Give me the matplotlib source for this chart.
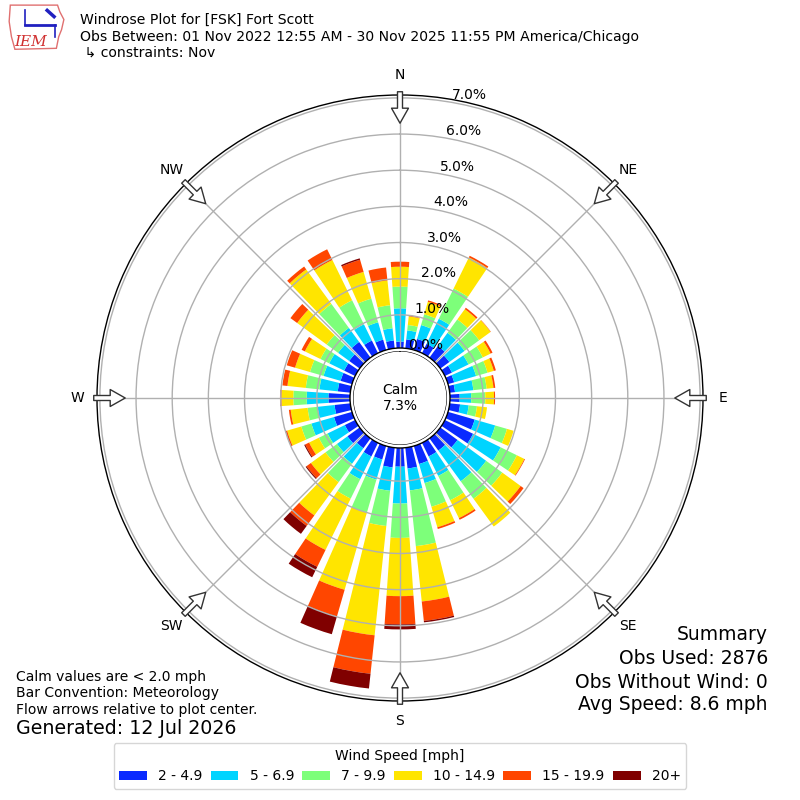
import numpy as np
import matplotlib

matplotlib.use("Agg")
import matplotlib.pyplot as plt
from matplotlib.patches import Patch, Circle, Polygon

# wind directions (deg, meteorological) and speed bins
directions = np.arange(0, 360, 10)
speed_labels = ["2 - 4.9", "5 - 6.9", "7 - 9.9", "10 - 14.9", "15 - 19.9", "20+"]
speed_colors = ["#0a2aff", "#00d4ff", "#7dff7a", "#ffe500", "#ff4600", "#800000"]

# percent of observations per direction, one list per speed bin
pct_2_5 = [0.26, 0.33, 0.40, 0.37, 0.48, 0.39, 0.30, 0.26, 0.23, 0.35, 0.37, 0.85,
           0.95, 0.67, 0.50, 0.50, 0.60, 0.66, 0.60, 0.63, 0.47, 0.50, 0.42, 0.50,
           0.40, 0.60, 0.52, 0.68, 0.43, 0.41, 0.42, 0.44, 0.62, 0.47, 0.38, 0.30]
pct_5_7 = [0.92, 0.25, 0.40, 0.77, 0.45, 0.52, 0.51, 0.63, 0.51, 0.32, 0.24, 0.59,
           0.85, 0.98, 1.05, 0.60, 0.55, 0.61, 1.02, 0.65, 0.58, 0.70, 0.53, 0.36,
           0.53, 0.65, 0.47, 0.60, 0.51, 0.49, 0.46, 0.38, 0.48, 0.50, 0.50, 0.34]
pct_7_10 = [0.60, 0.15, 0.31, 0.93, 0.46, 0.50, 0.44, 0.33, 0.37, 0.39, 0.23, 0.34,
            0.50, 0.55, 0.60, 0.75, 0.68, 1.55, 0.95, 0.98, 0.95, 0.60, 0.63, 0.39,
            0.27, 0.29, 0.28, 0.37, 0.38, 0.39, 0.27, 0.39, 0.82, 0.74, 0.68, 0.64]
pct_10_15 = [0.55, 0.24, 0.36, 0.96, 0.35, 0.39, 0.24, 0.18, 0.19, 0.24, 0.28, 0.19,
             0.23, 0.63, 0.95, 0.55, 0.59, 1.54, 1.61, 3.04, 2.22, 1.58, 1.14, 0.50,
             0.30, 0.41, 0.47, 0.33, 0.51, 0.43, 0.48, 1.01, 1.18, 1.24, 0.77, 0.69]
pct_15_20 = [0.14, 0.02, 0.04, 0.05, 0.05, 0.01, 0.06, 0.06, 0.05, 0.03, 0.00, 0.00,
             0.02, 0.10, 0.00, 0.05, 0.05, 0.54, 0.78, 1.07, 0.77, 0.52, 0.36, 0.15,
             0.12, 0.04, 0.05, 0.04, 0.14, 0.24, 0.10, 0.23, 0.10, 0.33, 0.35, 0.36]
pct_20_up = [0.00, 0.00, 0.00, 0.00, 0.00, 0.00, 0.00, 0.00, 0.00, 0.00, 0.00, 0.00,
             0.00, 0.00, 0.00, 0.00, 0.00, 0.04, 0.14, 0.41, 0.51, 0.32, 0.27, 0.03,
             0.03, 0.01, 0.00, 0.00, 0.00, 0.00, 0.00, 0.00, 0.00, 0.00, 0.04, 0.00]
speed_bins = [pct_2_5, pct_5_7, pct_7_10, pct_10_15, pct_15_20, pct_20_up]

r_ticks = [0, 1, 2, 3, 4, 5, 6, 7]
r_tick_labels = [f"{v:.1f}%" for v in r_ticks]
compass_names = ["N", "NE", "E", "SE", "S", "SW", "W", "NW"]
compass_degs = [0, 45, 90, 135, 180, 225, 270, 315]

calm_pct = 7.3
obs_used = 2876
obs_no_wind = 0
avg_speed = 8.6

fig = plt.figure(figsize=(8, 8), dpi=100)
ax = fig.add_axes([0.12125, 0.12375, 0.7575, 0.7575], projection="polar")
ax.set_theta_zero_location("N")
ax.set_theta_direction(-1)
ax.set_ylim(0, 7.08)
ax.set_rorigin(-1.3)

theta = np.deg2rad(directions)
width = np.deg2rad(10) * 0.78
base = np.zeros(len(directions))
for vals, color in zip(speed_bins, speed_colors):
    vals = np.array(vals)
    ax.bar(theta, vals, width=width, bottom=base, color=color, linewidth=0)
    base = base + vals

ax.set_xticks(np.deg2rad(compass_degs))
ax.set_xticklabels([])
ax.set_yticks(r_ticks)
ax.set_yticklabels(r_tick_labels)
ax.set_rlabel_position(10)
ax.tick_params(axis="y", labelsize=10)
ax.grid(True, color="#b0b0b0", linewidth=1)
ax.spines["polar"].set_linewidth(1)

# compass labels and inward flow arrows
for name, deg in zip(compass_names, compass_degs):
    th = np.deg2rad(deg)
    ax.text(th, 7.63, name, ha="center", va="center", fontsize=10)
    ax.annotate(
        "", xy=(th, 6.3), xytext=(th, 7.17),
        arrowprops=dict(arrowstyle="simple,head_length=1.08,head_width=1.22,tail_width=0.36",
                        mutation_scale=10, fc="white", ec="#333333", lw=1,
                        shrinkA=0, shrinkB=0),
        zorder=6, annotation_clip=False,
    )

# calm circle
ax.add_patch(Circle((0.5, 0.5), 50 / 606, transform=ax.transAxes,
                    facecolor="white", edgecolor="black", linewidth=1, zorder=4))
ax.text(0.5, 0.5, f"Calm\n{calm_pct:.1f}%", transform=ax.transAxes,
        ha="center", va="center", fontsize=10, zorder=5)

# header
fig.text(0.1, 1 - 20 / 800, "Windrose Plot for [FSK] Fort Scott", fontsize=10.1, va="center")
fig.text(0.1, 1 - 37 / 800,
         "Obs Between: 01 Nov 2022 12:55 AM - 30 Nov 2025 11:55 PM America/Chicago",
         fontsize=10.1, va="center")
fig.text(0.1, 1 - 53 / 800, " \u21b3 constraints: Nov", fontsize=10.1, va="center")

# logo
lax = fig.add_axes([0.01, 0.936, 0.072, 0.06])
lax.set_xlim(0, 1)
lax.set_ylim(0, 1)
lax.axis("off")
lax.add_patch(Polygon([(0.04, 0.96), (0.86, 0.96), (0.9, 0.82), (0.97, 0.66), (0.93, 0.45),
                       (0.88, 0.3), (0.84, 0.06), (0.12, 0.04), (0.06, 0.3), (0.02, 0.62)],
                      closed=True, fill=False, edgecolor="#e07070", linewidth=1))
lax.plot([0.3, 0.82], [0.55, 0.55], color="#2020c0", linewidth=2)
lax.plot([0.3, 0.3], [0.55, 0.85], color="#2020c0", linewidth=1.2)
lax.plot([0.68, 0.8], [0.85, 0.72], color="#2020c0", linewidth=2.5)
lax.plot([0.82, 0.82], [0.55, 0.3], color="#2020c0", linewidth=1.2)
lax.text(0.4, 0.2, "IEM", color="#d03030", fontsize=11, family="DejaVu Serif",
         style="italic", ha="center", va="center")

# footer notes
fig.text(0.02, 1 - 677 / 800, "Calm values are < 2.0 mph", fontsize=10, va="center")
fig.text(0.02, 1 - 693 / 800, "Bar Convention: Meteorology", fontsize=10, va="center")
fig.text(0.02, 1 - 710 / 800, "Flow arrows relative to plot center.", fontsize=10, va="center")
fig.text(0.02, 1 - 729 / 800, "Generated: 12 Jul 2026", fontsize=13.7, va="center")

fig.text(0.96, 1 - 635 / 800, "Summary", fontsize=13.5, ha="right", va="center")
fig.text(0.96, 1 - 659 / 800, f"Obs Used: {obs_used}", fontsize=13.5, ha="right", va="center")
fig.text(0.96, 1 - 682 / 800, f"Obs Without Wind: {obs_no_wind}", fontsize=13.5,
         ha="right", va="center")
fig.text(0.96, 1 - 705 / 800, f"Avg Speed: {avg_speed} mph", fontsize=13.5,
         ha="right", va="center")

handles = [Patch(facecolor=c, label=l) for c, l in zip(speed_colors, speed_labels)]
fig.legend(handles=handles, loc="center", bbox_to_anchor=(0.5, 1 - 766 / 800), ncol=6,
           title="Wind Speed [mph]", fontsize=10, title_fontsize=10,
           columnspacing=0.6, handletextpad=0.8)

fig.savefig("out.png", dpi=100)
